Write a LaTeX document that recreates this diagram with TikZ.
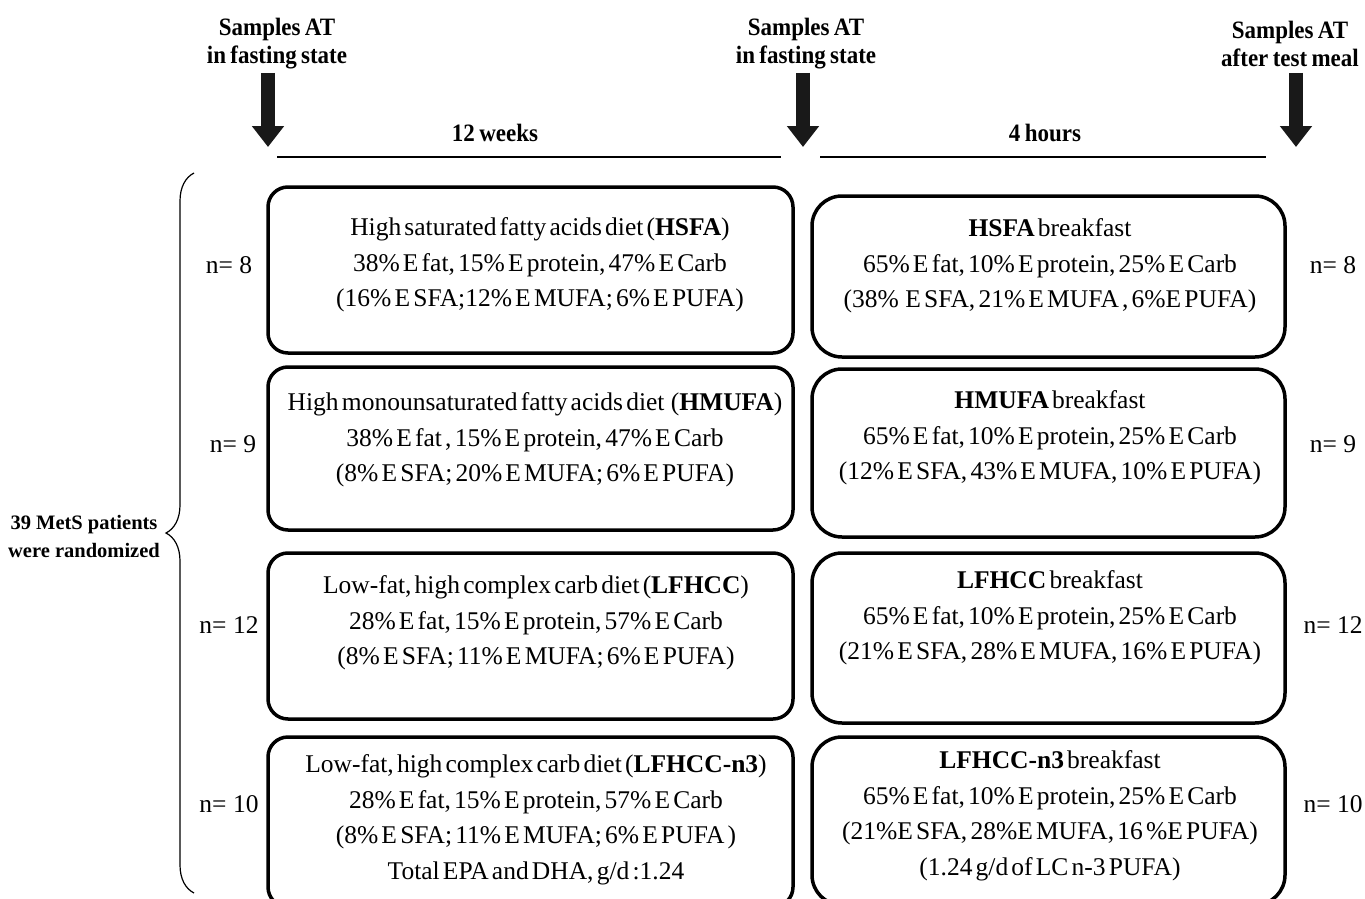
\documentclass[tikz,border=0pt]{standalone}
\usepackage{fontspec}
\setmainfont{Liberation Serif}[WordSpace=0.5]
\newfontfamily\headfont{Liberation Serif}[FakeStretch=0.92,WordSpace=0.75]
\newfontfamily\countfont{Liberation Serif}
\usetikzlibrary{arrows.meta,decorations.pathreplacing,positioning}

\begin{document}
\begin{tikzpicture}[x=1pt,y=-1pt]
\tikzstyle{every node}=[inner sep=0pt,align=center,font=\fontsize{25.5pt}{35.5pt}\selectfont];
\tikzstyle{headtext}=[font=\headfont\bfseries\fontsize{25pt}{28pt}\selectfont];
\tikzstyle{counttext}=[font=\countfont\fontsize{25.5pt}{30pt}\selectfont];
\tikzstyle{dietbox}=[draw,line width=3.5pt,rounded corners=20pt,minimum width=525pt];
\tikzstyle{mealbox}=[draw,line width=3.5pt,rounded corners=30pt,minimum width=473pt];
\tikzstyle{samplearrow}=[line width=14pt,black!90,-{Triangle[length=21pt,width=31pt]}];
\tikzstyle{periodline}=[line width=2.5pt];
\clip (0,0) rectangle (1365,899);

% sampling points
\node[headtext] (s1) at (277,44) {Samples AT\\in fasting state};
\node[headtext] (s2) at (806,44) {Samples AT\\in fasting state};
\node[headtext] (s3) at (1290,44) {Samples AT\\after test meal};
\coordinate (a1top) at (268,73);
\coordinate (a1tip) at (268,147);
\coordinate (a2top) at (803,73);
\coordinate (a2tip) at (803,147);
\coordinate (a3top) at (1296,73);
\coordinate (a3tip) at (1296,147);
\draw[samplearrow] (a1top) -- (a1tip);
\draw[samplearrow] (a2top) -- (a2tip);
\draw[samplearrow] (a3top) -- (a3tip);

% periods
\node[headtext] (weeks) at (495,133) {12 weeks};
\node[headtext] (hours) at (1045,133) {4 hours};
\coordinate (w1) at (277,157);
\coordinate (w2) at (781,157);
\coordinate (h1) at (820,157);
\coordinate (h2) at (1266,157);
\draw[periodline] (w1) -- (w2);
\draw[periodline] (h1) -- (h2);

% randomization
\coordinate (brbot) at (194,893);
\coordinate (brtop) at (194,173);
\draw[decorate,decoration={brace,amplitude=28pt},line width=1.2pt] (brbot) -- (brtop);
\node[font=\countfont\bfseries\fontsize{20.5pt}{28pt}\selectfont] (pat) at (84,536) {39 MetS patients\\were randomized};

% diets
\node[dietbox,minimum height=166pt] (hsfa) at (530.5,270) {};
\node[dietbox,minimum height=163pt] (hmufa) at (530.5,448.5) {};
\node[dietbox,minimum height=166pt] (lfhcc) at (530.5,636) {};
\node[dietbox,minimum height=170pt] (lfhccn) at (530.5,822) {};
\node (hsfatxt) at (540,265) {High saturated fatty acids diet (\textbf{HSFA})\\38\% E fat, 15\% E protein, 47\% E Carb\\(16\% E SFA;12\% E MUFA; 6\% E PUFA)};
\node (hmufatxt) at (535,440) {High monounsaturated fatty acids diet~ (\textbf{HMUFA})\\38\% E fat , 15\% E protein, 47\% E Carb\\(8\% E SFA; 20\% E MUFA; 6\% E PUFA)};
\node (lfhcctxt) at (536,623) {Low-fat, high complex carb diet (\textbf{LFHCC})\\28\% E fat, 15\% E protein, 57\% E Carb\\(8\% E SFA; 11\% E MUFA; 6\% E PUFA)};
\node (lfhccntxt) at (536,820) {Low-fat, high complex carb diet (\textbf{LFHCC-n3})\\28\% E fat, 15\% E protein, 57\% E Carb\\(8\% E SFA; 11\% E MUFA; 6\% E PUFA )\\Total EPA and DHA, g/d :1.24};

% test meals
\node[mealbox,minimum height=161pt] (bhsfa) at (1048.5,276.5) {};
\node[mealbox,minimum height=168pt] (bhmufa) at (1048.5,453) {};
\node[mealbox,minimum height=170pt] (blfhcc) at (1048.5,638) {};
\node[mealbox,minimum height=168pt] (blfhccn) at (1048.5,821) {};
\node (bhsfatxt) at (1050,266) {\textbf{HSFA} breakfast\\65\% E fat, 10\% E protein, 25\% E Carb\\(38\%~ E SFA, 21\% E MUFA , 6\%E PUFA)};
\node (bhmufatxt) at (1050,438) {\textbf{HMUFA} breakfast\\65\% E fat, 10\% E protein, 25\% E Carb\\(12\% E SFA, 43\% E MUFA, 10\% E PUFA)};
\node (blfhcctxt) at (1050,618) {\textbf{LFHCC} breakfast\\65\% E fat, 10\% E protein, 25\% E Carb\\(21\% E SFA, 28\% E MUFA, 16\% E PUFA)};
\node (blfhccntxt) at (1050,816) {\textbf{LFHCC-n3} breakfast\\65\% E fat, 10\% E protein, 25\% E Carb\\(21\%E SFA, 28\%E MUFA, 16 \%E PUFA)\\(1.24 g/d of LC n-3 PUFA)};

% group sizes
\node[counttext] (nl1) at (229,265) {n= 8};
\node[counttext] (nl2) at (233,444) {n= 9};
\node[counttext] (nl3) at (229,625) {n= 12};
\node[counttext] (nl4) at (229,804) {n= 10};
\node[counttext] (nr1) at (1333,265) {n= 8};
\node[counttext] (nr2) at (1333,444) {n= 9};
\node[counttext] (nr3) at (1333,625) {n= 12};
\node[counttext] (nr4) at (1333,804) {n= 10};
\end{tikzpicture}
\end{document}
